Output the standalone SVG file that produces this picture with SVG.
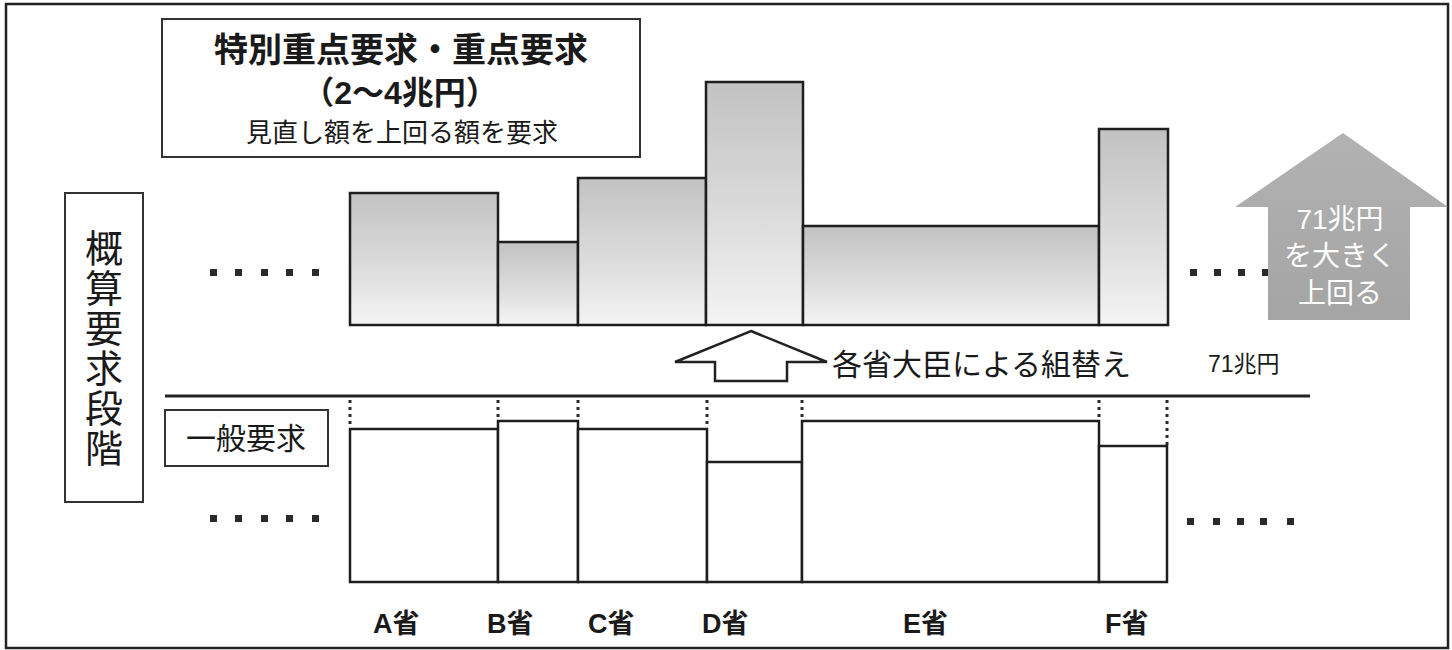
<svg xmlns="http://www.w3.org/2000/svg" width="1452" height="650" viewBox="0 0 1452 650">
<defs>
<linearGradient id="gbar" x1="0" y1="0" x2="0" y2="1">
<stop offset="0" stop-color="#c2c2c2"/>
<stop offset="0.6" stop-color="#dedede"/>
<stop offset="1" stop-color="#f4f4f4"/>
</linearGradient>
<linearGradient id="garrow" x1="0" y1="0" x2="0" y2="1">
<stop offset="0" stop-color="#b2b2b2"/>
<stop offset="1" stop-color="#a4a4a4"/>
</linearGradient>
<style>
.jp{font-family:"Liberation Sans","Noto Sans CJK JP",sans-serif;fill:#1a1a1a}
.b{font-weight:bold}
.box{fill:#fff;stroke:#333;stroke-width:2}
.up{fill:url(#gbar);stroke:#1e1e1e;stroke-width:2.5}
.lo{fill:#fff;stroke:#1e1e1e;stroke-width:2.5}
.dot{fill:#2a2a2a}
.dash{stroke:#2a2a2a;stroke-width:3;stroke-dasharray:3 4;fill:none}
</style>
</defs>
<rect x="0" y="0" width="1452" height="650" fill="#fff"/>
<rect id="frame" x="6" y="4" width="1442" height="644" fill="none" stroke="#222" stroke-width="2.5"/>

<g id="title-box">
<rect class="box" x="162" y="19" width="478" height="138"/>
<text class="jp b" x="401" y="62" font-size="34" text-anchor="middle">特別重点要求・重点要求</text>
<text class="jp b" x="400" y="104" font-size="32" text-anchor="middle">（2～4兆円）</text>
<text class="jp" x="402" y="142" font-size="26" text-anchor="middle">見直し額を上回る額を要求</text>
</g>

<g id="stage-box">
<rect class="box" x="65" y="193" width="78" height="309"/>
<text class="jp" x="104" font-size="38" text-anchor="middle"><tspan x="104" y="262">概</tspan><tspan x="104" y="302">算</tspan><tspan x="104" y="342">要</tspan><tspan x="104" y="382">求</tspan><tspan x="104" y="422">段</tspan><tspan x="104" y="462">階</tspan></text>
</g>

<g id="general-box">
<rect class="box" x="165" y="410" width="163" height="56"/>
<text class="jp" x="246" y="449" font-size="30" text-anchor="middle">一般要求</text>
</g>

<g id="upper-bars">
<rect class="up" x="350" y="193" width="148" height="132"/>
<rect class="up" x="498" y="242" width="80" height="83"/>
<rect class="up" x="578" y="178" width="128" height="147"/>
<rect class="up" x="706" y="82" width="97" height="243"/>
<rect class="up" x="803" y="226" width="296" height="99"/>
<rect class="up" x="1099" y="129" width="69" height="196"/>
</g>

<g id="lower-bars">
<rect class="lo" x="350" y="429" width="148" height="153"/>
<rect class="lo" x="498" y="421" width="80" height="161"/>
<rect class="lo" x="578" y="429" width="129" height="153"/>
<rect class="lo" x="707" y="462" width="95" height="120"/>
<rect class="lo" x="802" y="421" width="297" height="161"/>
<rect class="lo" x="1099" y="446" width="68" height="136"/>
</g>

<g id="ellipsis">
<rect class="dot" x="210" y="269" width="7" height="7"/>
<rect class="dot" x="235" y="269" width="7" height="7"/>
<rect class="dot" x="261" y="269" width="7" height="7"/>
<rect class="dot" x="286" y="269" width="7" height="7"/>
<rect class="dot" x="312" y="269" width="7" height="7"/>
<rect class="dot" x="210" y="515" width="7" height="7"/>
<rect class="dot" x="235" y="515" width="7" height="7"/>
<rect class="dot" x="261" y="515" width="7" height="7"/>
<rect class="dot" x="286" y="515" width="7" height="7"/>
<rect class="dot" x="312" y="515" width="7" height="7"/>
<rect class="dot" x="1190" y="269" width="7" height="7"/>
<rect class="dot" x="1214" y="269" width="7" height="7"/>
<rect class="dot" x="1238" y="269" width="7" height="7"/>
<rect class="dot" x="1262" y="269" width="7" height="7"/>
<rect class="dot" x="1187" y="518" width="7" height="7"/>
<rect class="dot" x="1213" y="518" width="7" height="7"/>
<rect class="dot" x="1237" y="518" width="7" height="7"/>
<rect class="dot" x="1260" y="518" width="7" height="7"/>
<rect class="dot" x="1287" y="518" width="7" height="7"/>
</g>

<g id="big-arrow">
<polygon points="1343,133 1448,207 1410,207 1410,320 1268,320 1268,207 1235,207" fill="url(#garrow)"/>
<text class="jp" x="1340" font-size="28" text-anchor="middle" style="fill:#fff"><tspan x="1340" y="229">71兆円</tspan><tspan x="1340" y="266">を大きく</tspan><tspan x="1340" y="303">上回る</tspan></text>
</g>

<g id="connectors">
<line x1="165" y1="396" x2="1310" y2="396" stroke="#222" stroke-width="3"/>
<line class="dash" x1="350" y1="400" x2="350" y2="428"/>
<line class="dash" x1="498" y1="400" x2="498" y2="420"/>
<line class="dash" x1="578" y1="400" x2="578" y2="420"/>
<line class="dash" x1="707" y1="400" x2="707" y2="428"/>
<line class="dash" x1="802" y1="400" x2="802" y2="420"/>
<line class="dash" x1="1099" y1="400" x2="1099" y2="420"/>
<line class="dash" x1="1167" y1="400" x2="1167" y2="445"/>
<polygon points="751,331 827,362 787,362 787,381 715,381 715,362 675,362" fill="#fff" stroke="#222" stroke-width="2.5" stroke-linejoin="miter"/>
</g>

<g id="labels">
<text class="jp" x="832" y="375" font-size="30">各省大臣による組替え</text>
<text class="jp" x="1208" y="372" font-size="23">71兆円</text>
<text class="jp b" x="373" y="633" font-size="27">A省</text>
<text class="jp b" x="487" y="633" font-size="27">B省</text>
<text class="jp b" x="588" y="633" font-size="27">C省</text>
<text class="jp b" x="702" y="633" font-size="27">D省</text>
<text class="jp b" x="903" y="633" font-size="27">E省</text>
<text class="jp b" x="1105" y="633" font-size="27">F省</text>
</g>
</svg>
